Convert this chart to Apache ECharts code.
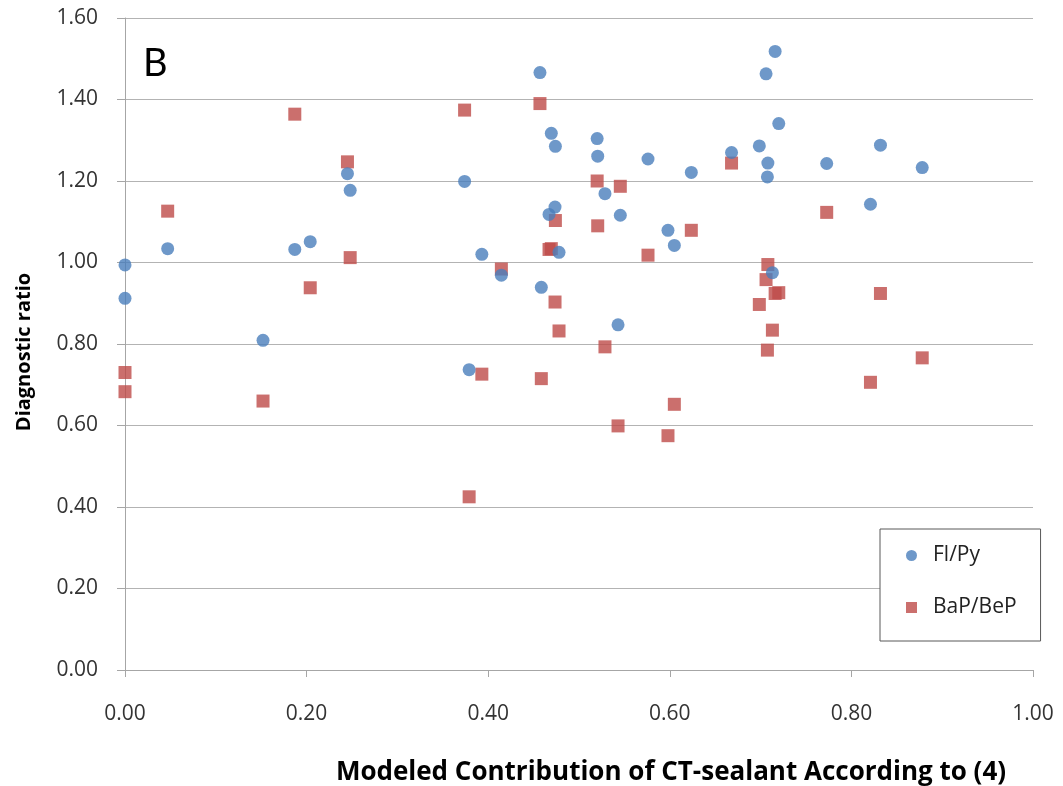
<!DOCTYPE html>
<html>
<head>
<meta charset="utf-8">
<script src="https://cdn.jsdelivr.net/npm/echarts@6/dist/echarts.min.js"></script>
<style>
  html, body { margin: 0; padding: 0; background: #fff; }
  #chart { width: 1063px; height: 786px; }
</style>
</head>
<body>
<div id="chart"></div>
<script>
// Modeled CT-sealant contribution for each sample (shared by both ratios)
const contribution = [
  0.000, 0.000, 0.047, 0.152, 0.187, 0.204, 0.245, 0.248, 0.374, 0.379,
  0.393, 0.4145, 0.457, 0.4585, 0.467, 0.4695, 0.474, 0.4736, 0.478, 0.520,
  0.5206, 0.5286, 0.543, 0.5455, 0.576, 0.598, 0.605, 0.6237, 0.668, 0.6986,
  0.706, 0.708, 0.7075, 0.713, 0.716, 0.720, 0.7728, 0.821, 0.832, 0.878
];
// Fluoranthene / pyrene ratio
const flPy = [
  0.994, 0.912, 1.034, 0.809, 1.032, 1.051, 1.218, 1.177, 1.199, 0.737,
  1.020, 0.969, 1.466, 0.939, 1.118, 1.317, 1.285, 1.136, 1.025, 1.304,
  1.261, 1.169, 0.847, 1.116, 1.254, 1.079, 1.042, 1.221, 1.270, 1.286,
  1.463, 1.244, 1.210, 0.975, 1.518, 1.341, 1.243, 1.143, 1.288, 1.233
];
// Benzo[a]pyrene / benzo[e]pyrene ratio
const bapBep = [
  0.730, 0.683, 1.126, 0.660, 1.364, 0.938, 1.247, 1.012, 1.374, 0.425,
  0.726, 0.984, 1.390, 0.715, 1.032, 1.034, 1.103, 0.903, 0.832, 1.200,
  1.090, 0.793, 0.599, 1.187, 1.018, 0.575, 0.652, 1.079, 1.244, 0.897,
  0.958, 0.995, 0.785, 0.834, 0.924, 0.926, 1.123, 0.706, 0.924, 0.766
];
const seriesNames = ['Fl/Py', 'BaP/BeP'];
const panelLabel = 'B';
const xTitle = 'Modeled Contribution of CT-sealant According to (4)';
const yTitle = 'Diagnostic ratio';

const pairs = ys => contribution.map((x, i) => [x, ys[i]]);
const FONT = '"Open Sans", Lato, sans-serif';

const chart = echarts.init(document.getElementById('chart'), null, { renderer: 'canvas' });
chart.setOption({
  animation: false,
  backgroundColor: '#ffffff',
  textStyle: { fontFamily: FONT },
  grid: {
    left: 125, right: 30, top: 18, bottom: 116,
    containLabel: false, outerBoundsMode: 'none'
  },
  graphic: [
    {
      type: 'text', left: 143, top: 45,
      style: { text: panelLabel, font: '38px Lato, sans-serif', fill: '#000' }
    },
    {
      type: 'text', x: 671, y: 773,
      style: {
        text: xTitle, font: 'bold 26px ' + FONT, fill: '#000',
        align: 'center', verticalAlign: 'middle'
      }
    },
    {
      type: 'text', x: 24, y: 352, rotation: Math.PI / 2,
      style: {
        text: yTitle, font: 'bold 20px ' + FONT, fill: '#000',
        align: 'center', verticalAlign: 'middle'
      }
    }
  ],
  legend: {
    orient: 'vertical',
    left: 880, top: 529,
    backgroundColor: '#ffffff',
    borderColor: '#595959', borderWidth: 1,
    padding: [16, 24, 23, 26],
    itemGap: 31,
    itemWidth: 11, itemHeight: 11,
    textStyle: { fontSize: 21, color: '#222', fontFamily: FONT, padding: [0, 0, 0, 11] },
    data: [
      { name: seriesNames[0], icon: 'circle' },
      { name: seriesNames[1], icon: 'rect' }
    ]
  },
  xAxis: {
    type: 'value', min: 0, max: 1, interval: 0.2,
    axisLine: { show: true, lineStyle: { color: '#a6a6a6' } },
    axisTick: { show: true, length: 7, lineStyle: { color: '#a6a6a6' } },
    axisLabel: { fontSize: 21, color: '#333', margin: 34, formatter: v => v.toFixed(2) },
    splitLine: { show: false }
  },
  yAxis: {
    type: 'value', min: 0, max: 1.6, interval: 0.2,
    axisLine: { show: true, lineStyle: { color: '#a6a6a6' } },
    axisTick: { show: true, length: 8, lineStyle: { color: '#a6a6a6' } },
    axisLabel: { fontSize: 21, color: '#333', margin: 27, formatter: v => v.toFixed(2) },
    splitLine: { show: true, lineStyle: { color: '#b3b3b3', width: 1 } }
  },
  series: [
    {
      name: seriesNames[0], type: 'scatter', symbol: 'circle', symbolSize: 13,
      itemStyle: { color: '#4a7ebb' }, data: pairs(flPy), z: 3
    },
    {
      name: seriesNames[1], type: 'scatter', symbol: 'rect', symbolSize: 13,
      itemStyle: { color: '#be4b48' }, data: pairs(bapBep), z: 2
    }
  ]
});
</script>
</body>
</html>
